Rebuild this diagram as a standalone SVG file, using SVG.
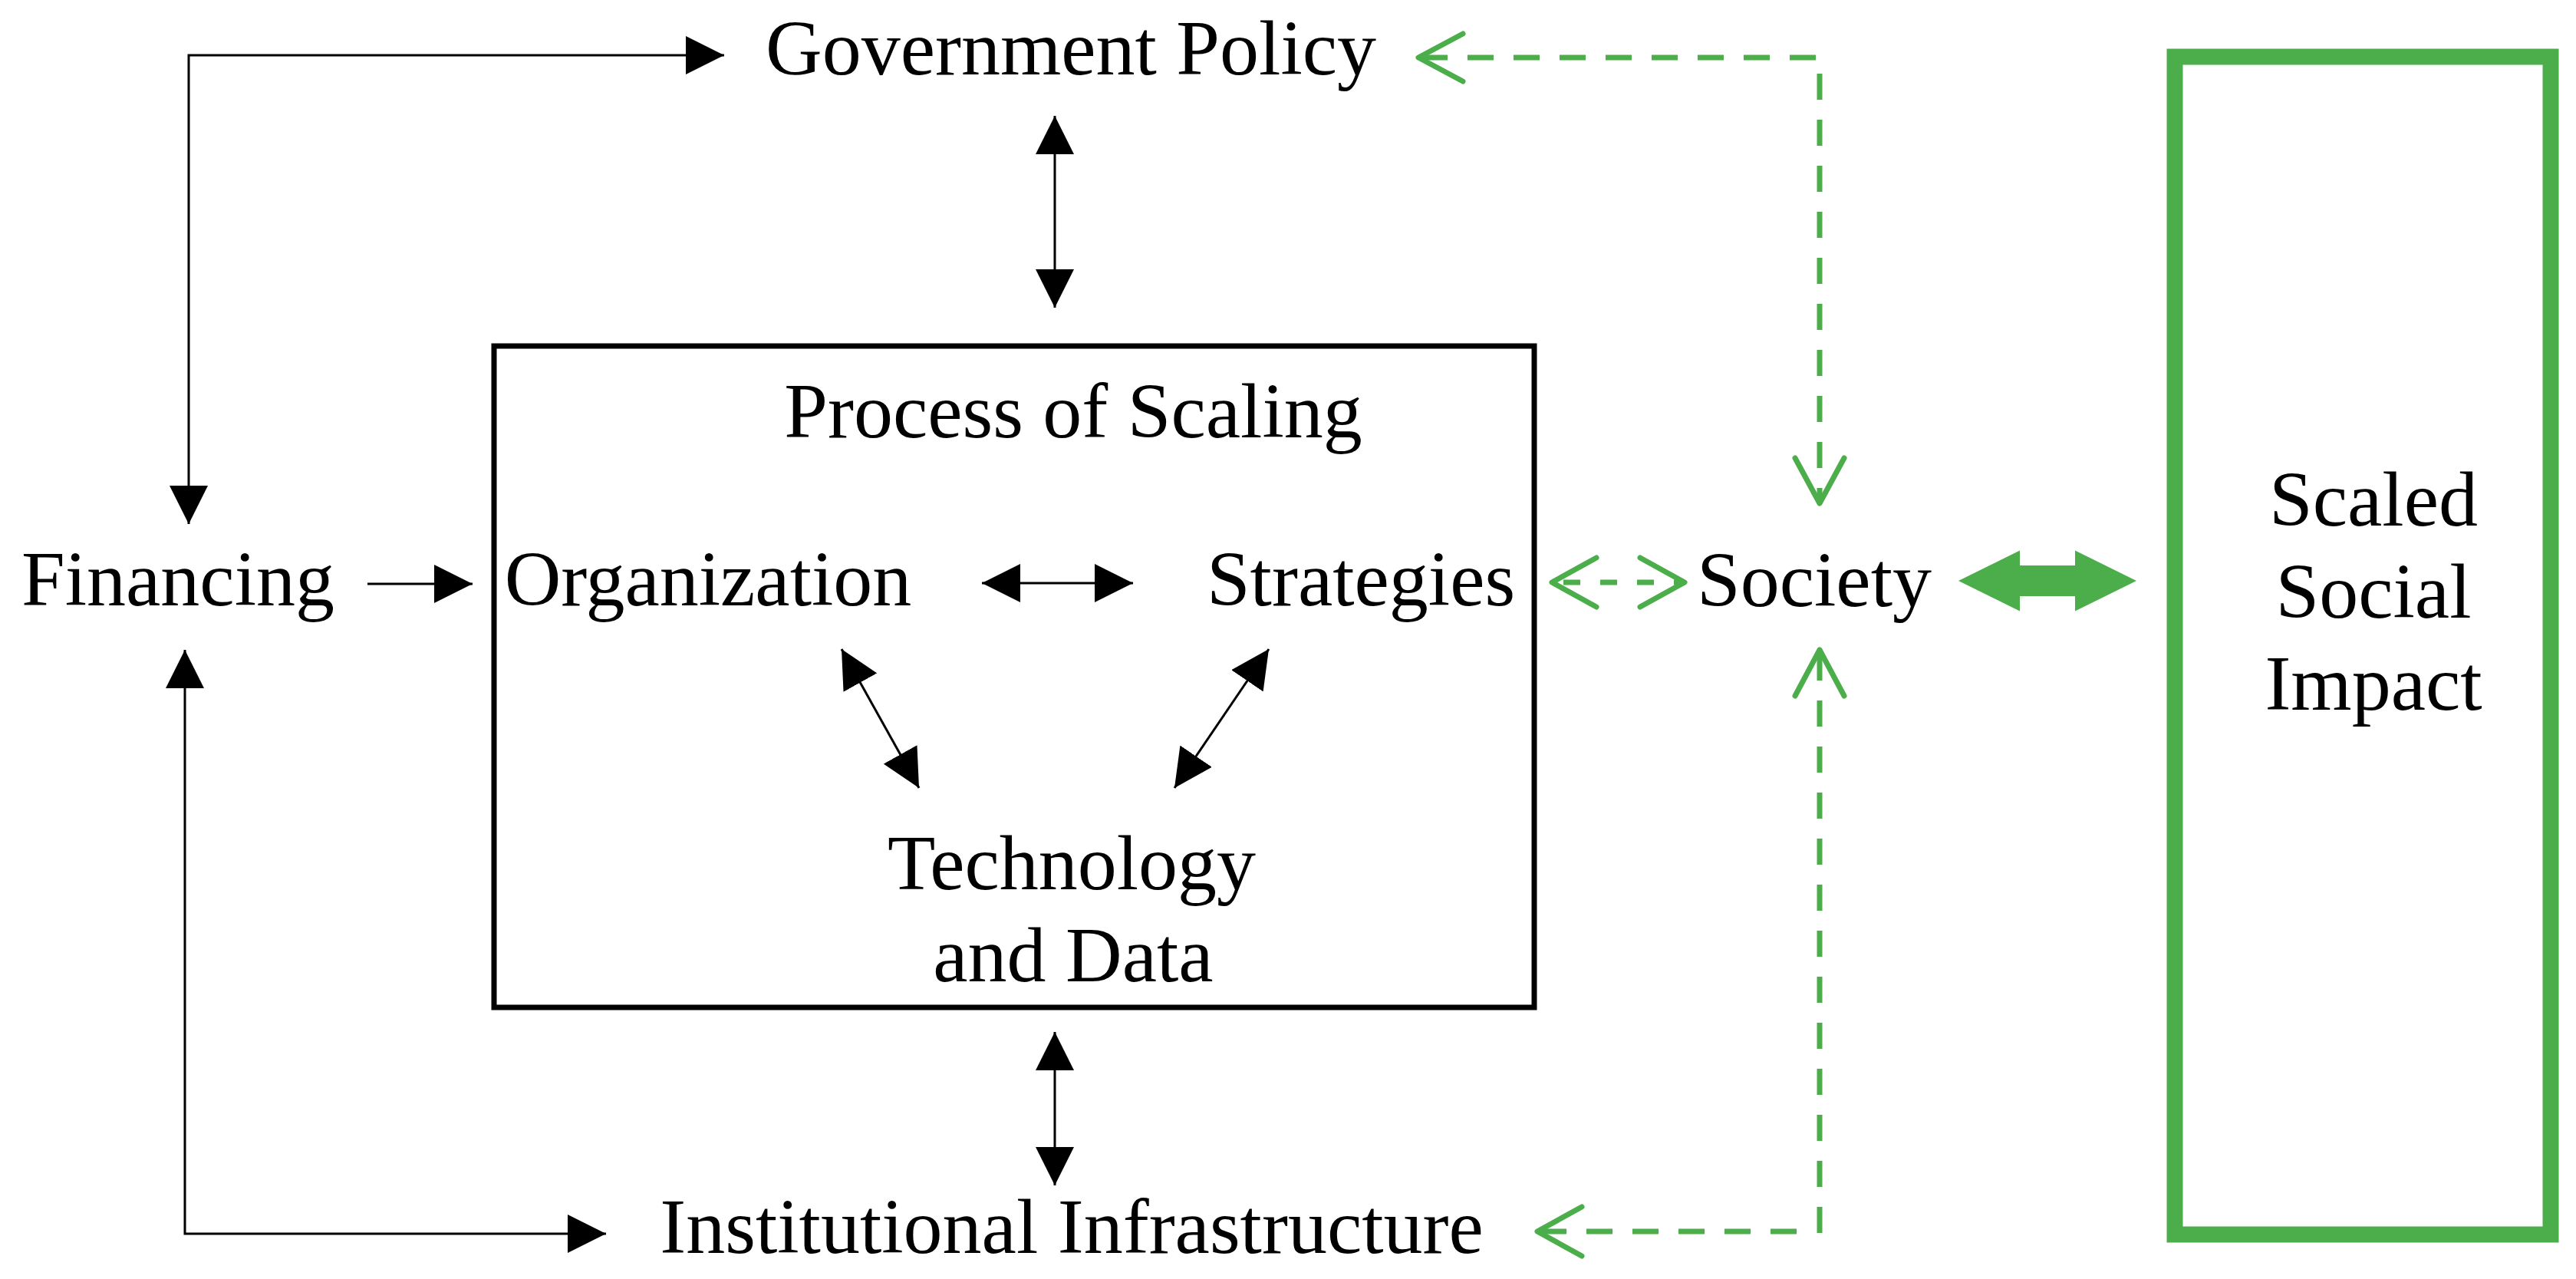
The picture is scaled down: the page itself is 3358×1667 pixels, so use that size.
<svg xmlns="http://www.w3.org/2000/svg" width="3358" height="1667" viewBox="0 0 3358 1667">
<style>
  .lbl { font-family: "Liberation Serif", "Times New Roman", serif; font-size: 102px; fill: #000; text-anchor: middle; }
  .blk { fill: none; stroke: #000; stroke-width: 3; }
  .gdash { fill: none; stroke: #4cae4a; stroke-width: 7; stroke-dasharray: 34 26; }
  .gshort { fill: none; stroke: #4cae4a; stroke-width: 7; stroke-dasharray: 22 26; }
  .chev { fill: none; stroke: #4cae4a; stroke-width: 7; stroke-linecap: round; stroke-linejoin: round; }
</style>
<defs>
  <marker id="tri" viewBox="0 0 50 50" markerUnits="userSpaceOnUse" markerWidth="50" markerHeight="50" refX="50" refY="25" orient="auto-start-reverse">
    <path d="M0,0 L50,25 L0,50 z" fill="#000"/>
  </marker>
</defs>
<rect width="3358" height="1667" fill="#fff"/>

<g id="process-box">
  <rect x="644" y="451" width="1356" height="862" fill="none" stroke="#000" stroke-width="7"/>
  <text class="lbl" x="1399" y="570">Process of Scaling</text>
</g>
<g id="government-policy"><text class="lbl" x="1396" y="97">Government Policy</text></g>
<g id="financing"><text class="lbl" x="232" y="789">Financing</text></g>
<g id="organization"><text class="lbl" x="923" y="789">Organization</text></g>
<g id="strategies"><text class="lbl" x="1774" y="789">Strategies</text></g>
<g id="technology-data">
  <text class="lbl" x="1397" y="1159">Technology</text>
  <text class="lbl" x="1399" y="1279">and Data</text>
</g>
<g id="institutional-infrastructure"><text class="lbl" x="1397" y="1633">Institutional Infrastructure</text></g>
<g id="society"><text class="lbl" x="2365" y="790">Society</text></g>
<g id="scaled-social-impact">
  <rect x="2835" y="74" width="490" height="1535" fill="none" stroke="#4cae4a" stroke-width="21"/>
  <text class="lbl" x="3094" y="685">Scaled</text>
  <text class="lbl" x="3094" y="805">Social</text>
  <text class="lbl" x="3094" y="925">Impact</text>
</g>

<g id="connectors">
  <path class="blk" d="M246 683 V72 H944" marker-start="url(#tri)" marker-end="url(#tri)"/>
  <path class="blk" d="M241 847 V1608 H790" marker-start="url(#tri)" marker-end="url(#tri)"/>
  <path class="blk" d="M1375 151 V401" marker-start="url(#tri)" marker-end="url(#tri)"/>
  <path class="blk" d="M1375 1345 V1545" marker-start="url(#tri)" marker-end="url(#tri)"/>
  <path class="blk" d="M479 761 H616" marker-end="url(#tri)"/>
  <path class="blk" d="M1280 760 H1477" marker-start="url(#tri)" marker-end="url(#tri)"/>
  <path class="blk" d="M1097 846 L1198 1027" marker-start="url(#tri)" marker-end="url(#tri)"/>
  <path class="blk" d="M1654 846 L1531 1027" marker-start="url(#tri)" marker-end="url(#tri)"/>

  <!-- Society to Government Policy -->
  <path class="gdash" d="M2367 75 H1851"/>
  <path class="chev" d="M1907 44 L1849 75 L1907 106"/>
  <path class="gdash" d="M2372 96 V654"/>
  <path class="chev" d="M2340 597 L2372 656 L2404 597"/>

  <!-- Society to Institutional Infrastructure -->
  <path class="gdash" d="M2372 1607 V850"/>
  <path class="chev" d="M2340 907 L2372 847 L2404 907"/>
  <path class="gdash" d="M2342 1605 H2006"/>
  <path class="chev" d="M2062 1573 L2004 1605 L2062 1637"/>

  <!-- Strategies to Society -->
  <path class="gshort" d="M2030 759 H2190" stroke-dashoffset="-8"/>
  <path class="chev" d="M2081 727 L2023 759 L2081 791"/>
  <path class="chev" d="M2138 727 L2196 759 L2138 791"/>

  <!-- Society to Scaled Social Impact -->
  <polygon fill="#4cae4a" points="2553,757 2633,717.5 2633,737 2705,737 2705,717.5 2785,757 2705,796.5 2705,777 2633,777 2633,796.5"/>
</g>
</svg>
